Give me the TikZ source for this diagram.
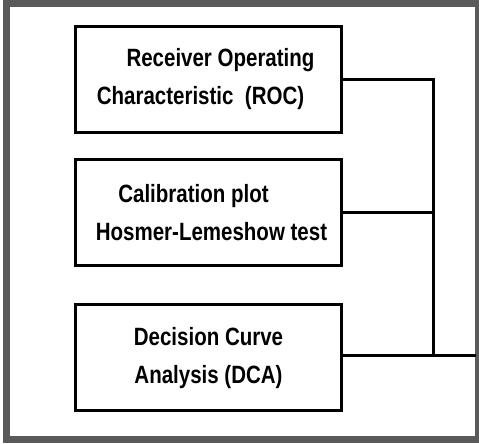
\documentclass[tikz,border=0pt]{standalone}
\usepackage{fontspec}
\setmainfont{Liberation Sans}[FakeStretch=0.82]
\usepackage{xcolor}
\definecolor{framegray}{HTML}{5A5A5A}
\tikzset{
	methodbox/.style={draw, line width=3pt, minimum width=266pt, minimum height=106pt, align=center, font=\fontsize{25}{38}\selectfont\bfseries},
	link/.style={line width=3pt}
}

\begin{document}
\begin{tikzpicture}[x=1pt,y=1pt]
	\useasboundingbox (0,0) rectangle (479,444);
	\draw[framegray, line width=7pt] (6.5,4) rectangle (478,440);

	\node[methodbox] (roc) at (208.5,364.5) {\hspace*{24pt}Receiver Operating\\Characteristic\ \ (ROC)\hspace*{16pt}};
	\node[methodbox] (cal) at (208.5,231.5) {Calibration plot\hspace*{30pt}\\\hspace*{6pt}Hosmer-Lemeshow test};
	\node[methodbox] (dca) at (208.5,86) {Decision Curve\\Analysis (DCA)};

	\coordinate (join) at (433,88);
	\coordinate (out) at (476,88);

	\draw[link] (roc.east) -| (join);
	\draw[link] (cal.east) -- (cal.east -| join);
	\draw[link] (dca.east |- join) -- (out);
\end{tikzpicture}
\end{document}
